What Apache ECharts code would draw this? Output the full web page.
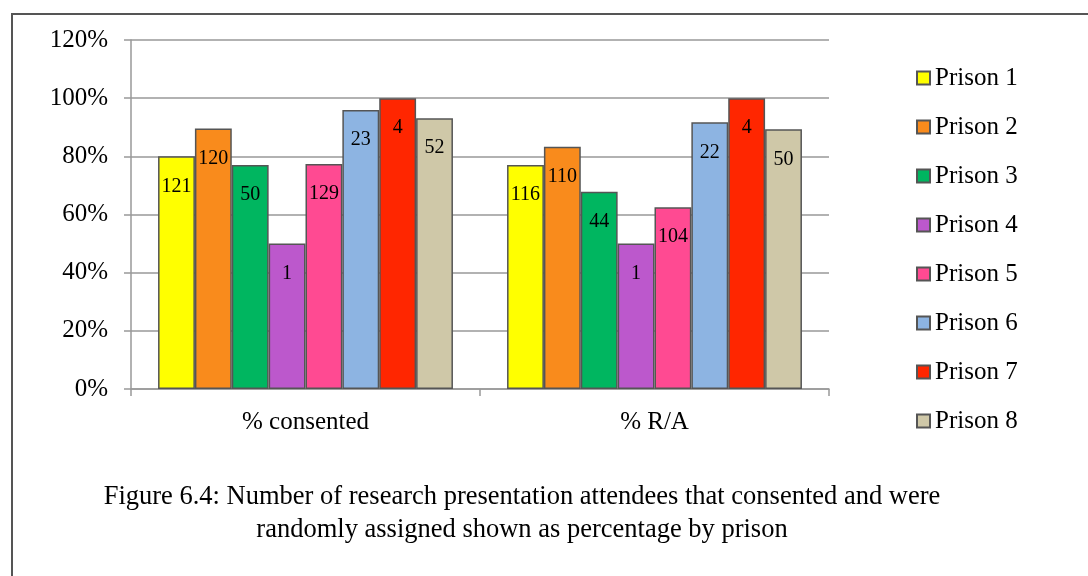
<!DOCTYPE html>
<html>
<head>
<meta charset="utf-8">
<script src="https://cdn.jsdelivr.net/npm/echarts@6/dist/echarts.min.js"></script>
<style>
  html, body { margin: 0; padding: 0; background: #fff; }
  #chart { width: 1088px; height: 576px; }
</style>
</head>
<body>
<div id="chart"></div>
<script>
// Measures shown along the category axis
const categories = ['% consented', '% R/A'];

// One series per prison
const prisonNames = ['Prison 1', 'Prison 2', 'Prison 3', 'Prison 4',
                     'Prison 5', 'Prison 6', 'Prison 7', 'Prison 8'];

// Percentages per prison: [consented, randomly assigned]
const pctPrison1 = [80.0, 77.0];
const pctPrison2 = [89.6, 83.3];
const pctPrison3 = [77.0, 67.8];
const pctPrison4 = [50.0, 50.0];
const pctPrison5 = [77.4, 62.5];
const pctPrison6 = [95.9, 91.7];
const pctPrison7 = [100.0, 100.0];
const pctPrison8 = [93.1, 89.3];

// Attendee counts printed inside each bar: [consented, randomly assigned]
const cntPrison1 = [121, 116];
const cntPrison2 = [120, 110];
const cntPrison3 = [50, 44];
const cntPrison4 = [1, 1];
const cntPrison5 = [129, 104];
const cntPrison6 = [23, 22];
const cntPrison7 = [4, 4];
const cntPrison8 = [52, 50];

// Y axis ticks (percent)
const yTicks = [0, 20, 40, 60, 80, 100, 120];

const caption = 'Figure 6.4: Number of research presentation attendees that consented and were\nrandomly assigned shown as percentage by prison';

const pctSeries = [pctPrison1, pctPrison2, pctPrison3, pctPrison4,
                   pctPrison5, pctPrison6, pctPrison7, pctPrison8];
const cntSeries = [cntPrison1, cntPrison2, cntPrison3, cntPrison4,
                   cntPrison5, cntPrison6, cntPrison7, cntPrison8];
const colors = ['#ffff00', '#f98b1c', '#00b660', '#bc58cc',
                '#ff4a92', '#8db4e2', '#ff2600', '#cfc8a8'];

const FONT = '"Liberation Serif", "DejaVu Serif", serif';

const chart = echarts.init(document.getElementById('chart'), null, { renderer: 'canvas' });

const series = prisonNames.map((name, i) => ({
  name: name,
  type: 'bar',
  barGap: '0%',
  barCategoryGap: '15.5%',
  data: pctSeries[i].map((v, j) => ({ value: v, count: cntSeries[i][j] })),
  itemStyle: { color: colors[i], borderColor: '#555555', borderWidth: 1.5 },
  label: {
    show: true,
    position: 'insideTop',
    distance: 20,
    fontFamily: FONT,
    fontSize: 20,
    color: '#000',
    formatter: p => String(p.data.count)
  },
  emphasis: { disabled: true }
}));

chart.setOption({
  animation: false,
  backgroundColor: '#fff',
  textStyle: { fontFamily: FONT },
  title: {
    text: caption,
    left: 522,
    top: 481,
    padding: 0,
    textAlign: 'center',
    textStyle: {
      fontFamily: FONT,
      fontSize: 26.5,
      fontWeight: 'normal',
      color: '#000',
      lineHeight: 33,
      align: 'center'
    }
  },
  legend: {
    orient: 'vertical',
    left: 916,
    top: 65,
    padding: 0,
    itemWidth: 13,
    itemHeight: 13,
    itemGap: 23,
    icon: 'rect',
    data: prisonNames,
    textStyle: { fontFamily: FONT, fontSize: 25, color: '#000', lineHeight: 26 }
  },
  grid: { left: 131, right: 259, top: 40, bottom: 187 },
  xAxis: {
    type: 'category',
    data: categories,
    axisLine: { show: true, lineStyle: { color: '#999', width: 1.5 } },
    axisTick: { show: true, length: 7, lineStyle: { color: '#999', width: 1.5 } },
    axisLabel: { fontFamily: FONT, fontSize: 25, color: '#000', margin: 21 }
  },
  yAxis: {
    type: 'value',
    min: yTicks[0],
    max: yTicks[yTicks.length - 1],
    interval: yTicks[1] - yTicks[0],
    axisLine: { show: true, lineStyle: { color: '#999', width: 1.5 } },
    axisTick: { show: true, length: 7, lineStyle: { color: '#999', width: 1.5 } },
    splitLine: { show: true, lineStyle: { color: '#999', width: 1.5 } },
    axisLabel: {
      fontFamily: FONT, fontSize: 25, color: '#000', margin: 23,
      formatter: '{value}%'
    }
  },
  graphic: [{
    type: 'rect',
    shape: { x: 12, y: 14, width: 1100, height: 600 },
    style: { fill: 'none', stroke: '#555', lineWidth: 2 },
    silent: true
  }],
  series: series
});
</script>
</body>
</html>
